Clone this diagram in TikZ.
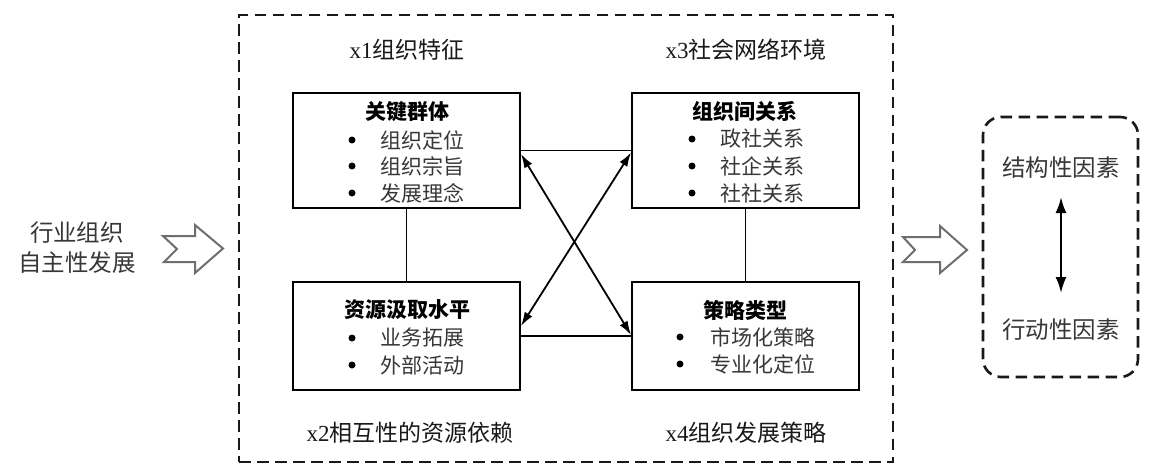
\documentclass[tikz,border=0pt]{standalone}
\usepackage{fontspec}
\setmainfont{Liberation Serif}
\newfontfamily\cjk{Noto Sans CJK SC}
\usetikzlibrary{arrows.meta}
\definecolor{txtgray}{RGB}{55,55,55}
\definecolor{arrgray}{RGB}{110,110,110}
\begin{document}
\begin{tikzpicture}[x=1pt,y=-1pt,
  box/.style={draw=black, line width=1.9pt, minimum width=227pt, inner sep=0pt},
  btitle/.style={font=\cjk\bfseries\fontsize{21pt}{24pt}\selectfont, text=black, inner sep=0pt},
  item/.style={font=\cjk\fontsize{21pt}{24pt}\selectfont, text=txtgray, anchor=west, inner sep=0pt},
  dotb/.style={circle, fill=black, minimum size=7pt, inner sep=0pt},
  xtitle/.style={font=\fontsize{23pt}{26pt}\selectfont, text=black!90, inner sep=0pt},
  side/.style={font=\cjk\fontsize{23.5pt}{30pt}\selectfont, text=txtgray, align=center, inner sep=0pt},
  conn/.style={draw=black, line width=1.8pt},
  dbl/.style={draw=black, line width=1.8pt, {Latex[length=14pt,width=9pt]}-{Latex[length=14pt,width=9pt]}},
  dashbox/.style={draw=black!90, line width=2.6pt, dash pattern=on 11.5pt off 6.5pt, inner sep=0pt},
  hollow/.style={draw=arrgray, line width=2pt, fill=white, line join=miter}
]
\useasboundingbox[fill=white] (0,0) rectangle (1149,474);

% outer dashed box
\node[dashbox, minimum width=654pt, minimum height=447pt] (M) at (566,238.5) {};

% group titles
\node[xtitle] (T1) at (407,50) {x1{\cjk 组织特征}};
\node[xtitle] (T3) at (746,50) {x3{\cjk 社会网络环境}};
\node[xtitle] (T2) at (410,433) {x2{\cjk 相互性的资源依赖}};
\node[xtitle] (T4) at (746,433) {x4{\cjk 组织发展策略}};

% boxes
\node[box, minimum height=115pt] (A) at (406.5,150.5) {};
\node[box, minimum height=115pt] (B) at (745.5,150.5) {};
\node[box, minimum height=108pt] (C) at (406.5,336) {};
\node[box, minimum height=108pt] (D) at (745.5,336) {};

% box A
\node[btitle] (A0) at (407,112) {关键群体};
\node[dotb] (A1d) at (352,140) {};
\node[item] (A1) at (380,140) {组织定位};
\node[dotb] (A2d) at (352,166) {};
\node[item] (A2) at (380,166) {组织宗旨};
\node[dotb] (A3d) at (352,193) {};
\node[item] (A3) at (380,193) {发展理念};

% box B
\node[btitle] (B0) at (745,111) {组织间关系};
\node[dotb] (B1d) at (692,139) {};
\node[item] (B1) at (720,139) {政社关系};
\node[dotb] (B2d) at (692,166) {};
\node[item] (B2) at (720,166) {社企关系};
\node[dotb] (B3d) at (692,193) {};
\node[item] (B3) at (720,193) {社社关系};

% box C
\node[btitle] (C0) at (407,310) {资源汲取水平};
\node[dotb] (C1d) at (352,338) {};
\node[item] (C1) at (380,338) {业务拓展};
\node[dotb] (C2d) at (352,365) {};
\node[item] (C2) at (380,365) {外部活动};

% box D
\node[btitle] (D0) at (745,310) {策略类型};
\node[dotb] (D1d) at (680,337) {};
\node[item] (D1) at (710,337) {市场化策略};
\node[dotb] (D2d) at (680,364) {};
\node[item] (D2) at (710,364) {专业化定位};

% connectors
\draw[conn] (A.east) -- (B.west);
\draw[conn] (C.east) -- (D.west);
\draw[conn] (A.south) -- (C.north);
\draw[conn] (B.south) -- (D.north);
\draw[dbl] ([yshift=-3.5pt]A.east) -- ([yshift=1pt]D.west);
\draw[dbl] ([yshift=10pt]C.east) -- ([yshift=-2pt]B.west);

% left text and hollow arrow
\node[side] (L) at (77,248) {行业组织\\自主性发展};
\draw[hollow] (163,236) -- (195,236) -- (195,225) -- (223,248.5) -- (195,273) -- (195,262) -- (164,262) -- (177,249) -- cycle;

% right hollow arrow
\draw[hollow] (903,237) -- (940,237) -- (940,226) -- (967,250) -- (940,273) -- (940,262) -- (903,262) -- (915,250) -- cycle;

% right rounded dashed box
\node[dashbox, rounded corners=18pt, minimum width=155pt, minimum height=260pt] (R) at (1060.5,247) {};
\node[side] (S1) at (1061,168) {结构性因素};
\node[side] (S2) at (1061,330) {行动性因素};
\draw[draw=black, line width=2.2pt, {Latex[length=16pt,width=11pt]}-{Latex[length=16pt,width=11pt]}] ([yshift=-29pt]S1.center) -- ([yshift=37pt]S2.center);
\end{tikzpicture}
\end{document}
